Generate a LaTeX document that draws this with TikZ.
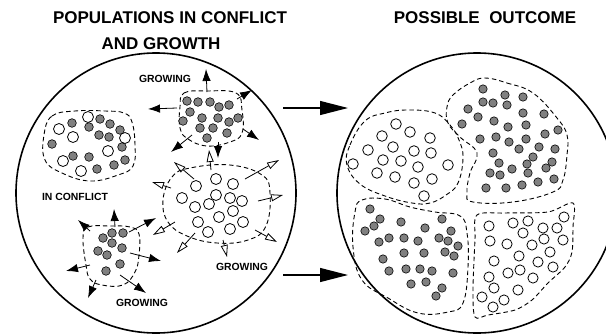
\documentclass[tikz,border=0pt]{standalone}
\usepackage{fontspec}
\setmainfont{Liberation Sans}
\usetikzlibrary{arrows.meta}

\begin{document}
\begin{tikzpicture}[x=1pt, y=-1pt,
    title/.style={font=\fontsize{17}{20}\selectfont\bfseries, inner sep=0pt},
    tag/.style={font=\fontsize{10.4}{12}\selectfont\bfseries, inner sep=0pt},
    world/.style={draw, circle, line width=1.6pt, minimum size=280pt, inner sep=0pt},
    region/.style={draw, dash pattern=on 4.5pt off 3pt, line width=0.9pt},
    own/.style={draw, fill=gray, line width=0.6pt},
    other/.style={draw, fill=white, line width=0.8pt},
    push/.style={-{Latex[length=12pt,width=8.5pt]}, line width=0.8pt},
    spread/.style={-{Triangle[open,length=12pt,width=7pt]}, line width=0.8pt},
    arrow/.style={-{Triangle[length=28pt,width=14pt]}, line width=1.2pt}
]
    \useasboundingbox (0,0) rectangle (606,335);

    \node[title] (head1) at (170,18) {POPULATIONS IN CONFLICT};
    \node[title] (head2) at (161,44) {AND GROWTH};
    \node[title] (head3) at (485,18) {POSSIBLE\ \ OUTCOME};

    \node[world] (before) at (156,193) {};
    \node[world] (after) at (477,193) {};

    \coordinate (from1) at (283,108);
    \coordinate (to1) at (348,108);
    \coordinate (from2) at (283,275);
    \coordinate (to2) at (348,275);
    \draw[arrow] (from1) -- (to1);
    \draw[arrow] (from2) -- (to2);

    % populations in conflict
    \draw[region] plot[smooth cycle, tension=0.7] coordinates {(44,135) (52,116) (75,111) (105,111) (124,113) (132,122) (135,145) (133,166) (118,175) (90,181) (62,173) (45,160)};
    \foreach \p in {(72,123),(89,127),(100,119),(110,124),(120,130),(99,135),(109,137),(52,144),(122,147),(73,156),(89,157),(125,160),(114,165),(97,169)}
        \draw[own] \p circle[radius=4.3pt];
    \foreach \p in {(88,117),(59,129),(73,137),(125,138),(108,151),(63,161),(81,171)}
        \draw[other] \p circle[radius=5.5pt];

    % growing groups
    \draw[region] plot[smooth cycle, tension=0.7] coordinates {(180,107) (184,93) (207,91) (236,93) (242,110) (242,133) (230,142) (207,146) (188,139) (180,128)};
    \foreach \p in {(187,101),(198,102),(210,102),(219,107),(229,105),(190,112),(183,121),(202,118),(218,118),(229,122),(238,118),(200,128),(213,128),(227,133),(207,138)}
        \draw[own] \p circle[radius=4.3pt];
    \foreach \a/\b in {{(207,92)}/{(206,69)}, {(177,108)}/{(148,109)}, {(237,99)}/{(252,90)}, {(243,129)}/{(259,140)}, {(192,135)}/{(171,152)}, {(218,142)}/{(218,158)}}
        \draw[push] \a -- \b;

    \draw[region] plot[smooth cycle, tension=0.7] coordinates {(163,200) (172,177) (190,168) (230,165) (262,175) (270,193) (266,226) (248,240) (217,243) (187,236) (168,222)};
    \foreach \p in {(216,179),(233,184),(196,186),(182,198),(216,195),(230,198),(242,201),(209,204),(195,207),(233,211),(219,217),(243,222),(198,222),(230,229),(208,232)}
        \draw[other] \p circle[radius=5.5pt];
    \foreach \a/\b in {{(211,170)}/{(209,150)}, {(194,179)}/{(174,162)}, {(171,188)}/{(152,182)}, {(175,222)}/{(153,235)}, {(195,233)}/{(177,253)}, {(223,240)}/{(227,257)}, {(255,230)}/{(277,242)}, {(258,201)}/{(283,195)}, {(245,179)}/{(279,160)}}
        \draw[spread] \a -- \b;

    \draw[region] plot[smooth cycle, tension=0.7] coordinates {(83,238) (88,227) (110,226) (130,227) (139,234) (139,255) (135,272) (123,285) (102,285) (90,279) (86,265)};
    \foreach \p in {(112,233),(123,233),(103,238),(112,243),(122,248),(98,251),(107,255),(120,264),(106,271)}
        \draw[own] \p circle[radius=4.3pt];
    \foreach \a/\b in {{(115,227)}/{(114,209)}, {(90,231)}/{(78,220)}, {(129,232)}/{(156,218)}, {(130,253)}/{(161,261)}, {(120,275)}/{(146,293)}, {(96,280)}/{(88,298)}, {(90,265)}/{(66,271)}}
        \draw[push] \a -- \b;

    \node[tag] (grow1) at (165,79) {GROWING};
    \node[tag] (fight) at (75,197) {IN CONFLICT};
    \node[tag] (grow2) at (242,267) {GROWING};
    \node[tag] (grow3) at (142,303) {GROWING};

    % outcome
    \draw[region] plot[smooth cycle, tension=0.7] coordinates {(347,165) (350,145) (365,121) (385,113) (408,110) (435,113) (450,125) (459,140) (463,158) (458,183) (446,195) (430,203) (412,203) (385,196) (360,184)};
    \foreach \p in {(396,124),(410,132),(382,136),(430,138),(393,147),(368,150),(414,151),(431,153),(383,160),(401,161),(353,164),(418,167),(448,165),(377,173),(395,177),(414,183),(432,179),(424,196)}
        \draw[other] \p circle[radius=5.3pt];

    \draw[region] plot[smooth cycle, tension=0.7] coordinates {(485,78) (507,83) (533,93) (557,118) (567,135) (567,155) (563,180) (553,192) (513,202) (473,202) (467,193) (470,173) (477,153) (460,137) (448,123) (447,107) (453,95) (470,83)};
    \foreach \p in {(483,89),(505,95),(523,97),(483,102),(493,103),(507,105),(468,109),(523,113),(544,114),(478,117),(494,121),(508,127),(526,125),(462,124),(558,130),(545,134),(480,139),(496,137),(509,142),(526,139),(519,149),(539,147),(555,149),(493,153),(533,157),(552,162),(499,163),(527,164),(512,169),(546,168),(490,173),(500,175),(528,173),(522,185),(538,182),(554,179),(486,188),(506,188)}
        \draw[own] \p circle[radius=4.2pt];

    \draw[region] plot[smooth cycle, tension=0.7] coordinates {(355,212) (362,200) (385,199) (410,207) (435,212) (460,216) (467,233) (468,267) (463,303) (448,312) (418,313) (388,298) (362,280) (353,247)};
    \foreach \p in {(370,209),(380,219),(401,222),(425,228),(442,219),(374,226),(365,231),(451,231),(379,242),(389,238),(404,238),(418,241),(439,238),(448,241),(458,246),(454,256),(445,252),(404,253),(424,253),(383,259),(389,271),(406,269),(420,269),(432,271),(453,273),(411,284),(426,282),(442,288),(436,296)}
        \draw[own] \p circle[radius=4.2pt];

    \draw[region] plot[smooth cycle, tension=0.5] coordinates {(477,215) (505,213) (548,212) (573,203) (573,227) (572,252) (565,267) (548,283) (532,300) (515,310) (488,315) (475,317) (473,290) (475,240)};
    \foreach \p in {(489,226),(513,223),(528,221),(564,217),(543,228),(557,228),(523,233),(490,241),(507,244),(532,245),(544,239),(563,240),(550,252),(519,256),(494,261),(538,262),(553,267),(520,270),(508,273),(489,277),(533,278),(494,288),(518,290),(482,297),(504,300),(493,307)}
        \draw[other] \p circle[radius=5.1pt];
\end{tikzpicture}
\end{document}
